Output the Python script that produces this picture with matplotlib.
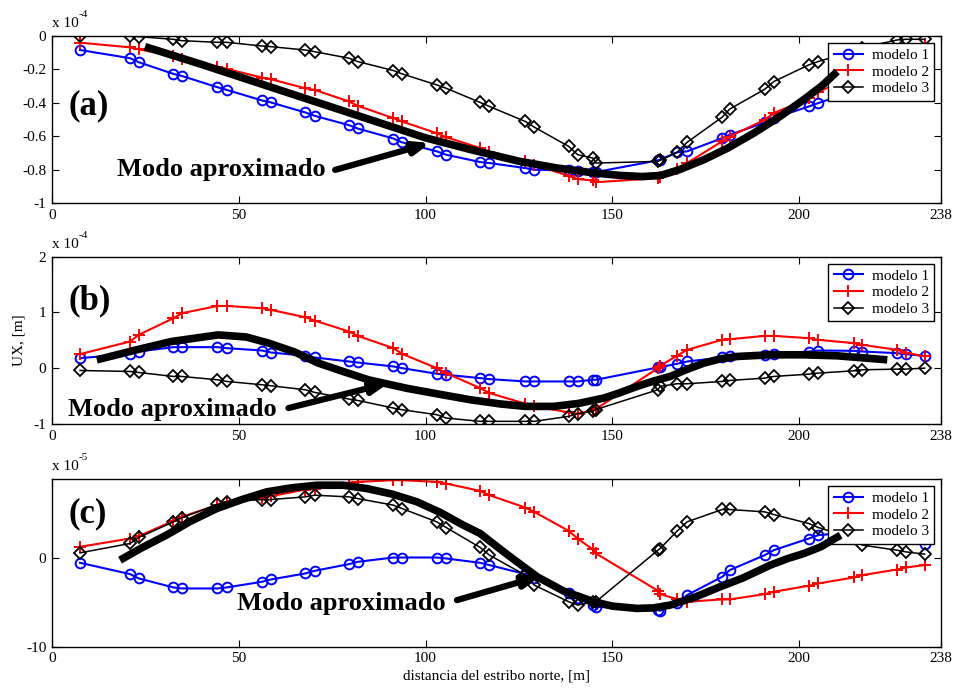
import matplotlib
matplotlib.use("Agg")
import matplotlib.pyplot as plt
import numpy as np

plt.rcParams['font.family'] = ['Liberation Serif', 'DejaVu Serif']
plt.rcParams['font.size'] = 10

# estaciones a lo largo del puente [m]
dist = [7.5, 20.9, 23.2, 32.5, 34.7, 44.3, 46.8, 56.2, 58.6, 67.8, 70.3, 79.5, 81.8,
        91.4, 93.7, 103.0, 105.5, 114.6, 117.1, 126.7, 129.1, 138.3, 140.7, 144.8, 145.6,
        162.2, 162.8, 167.3, 170.0, 179.4, 181.4, 190.8, 193.2, 202.6, 205.1, 214.7,
        216.9, 226.2, 228.5, 233.6]

# (a) modo 1, x 1e-4
a_m1 = [-0.084, -0.133, -0.157, -0.227, -0.239, -0.307, -0.323, -0.386, -0.398, -0.458,
        -0.478, -0.534, -0.554, -0.614, -0.637, -0.691, -0.711, -0.755, -0.761, -0.791,
        -0.801, -0.805, -0.811, -0.815, -0.815, -0.745, -0.74, -0.697, -0.691, -0.612,
        -0.592, -0.518, -0.492, -0.422, -0.402, -0.33, -0.3, -0.2, -0.17, -0.1]
a_m2 = [-0.04, -0.068, -0.08, -0.12, -0.14, -0.183, -0.197, -0.249, -0.259, -0.313,
        -0.323, -0.392, -0.418, -0.492, -0.512, -0.582, -0.606, -0.671, -0.697, -0.751,
        -0.771, -0.837, -0.857, -0.865, -0.876, -0.851, -0.845, -0.797, -0.761, -0.631,
        -0.602, -0.502, -0.462, -0.373, -0.333, -0.25, -0.22, -0.13, -0.1, -0.05]
a_m3 = [0.0, 0.0, -0.004, -0.02, -0.028, -0.038, -0.038, -0.06, -0.064, -0.084, -0.094,
        -0.133, -0.153, -0.207, -0.227, -0.293, -0.313, -0.398, -0.422, -0.512, -0.546,
        -0.661, -0.711, -0.731, -0.761, -0.751, -0.745, -0.697, -0.637, -0.486, -0.438,
        -0.319, -0.273, -0.173, -0.153, -0.09, -0.07, -0.024, -0.02, -0.02]
a_modo_x = [24.9, 40, 55, 70, 85, 100, 112, 125, 135, 145, 152, 158, 163, 168, 174.5,
            181, 188, 195, 201.3, 206, 210.2]
a_modo_y = [-0.064, -0.17, -0.28, -0.39, -0.5, -0.61, -0.68, -0.75, -0.79, -0.82, -0.835,
            -0.842, -0.835, -0.8, -0.741, -0.67, -0.58, -0.48, -0.38, -0.3, -0.213]

# (b) modo 2, x 1e-4
b_m1 = [0.181, 0.258, 0.3, 0.378, 0.378, 0.378, 0.36, 0.318, 0.282, 0.223, 0.193, 0.121,
        0.103, 0.032, 0.002, -0.099, -0.117, -0.177, -0.195, -0.237, -0.237, -0.237,
        -0.237, -0.207, -0.207, 0.014, 0.02, 0.08, 0.121, 0.193, 0.211, 0.241, 0.253, 0.3,
        0.318, 0.312, 0.3, 0.27, 0.253, 0.223]
b_m2 = [0.253, 0.479, 0.598, 0.897, 0.986, 1.117, 1.117, 1.076, 1.046, 0.915, 0.855,
        0.658, 0.581, 0.36, 0.258, 0.002, -0.087, -0.356, -0.445, -0.636, -0.684, -0.79,
        -0.815, -0.75, -0.73, 0.002, 0.044, 0.223, 0.33, 0.51, 0.52, 0.58, 0.58, 0.539,
        0.51, 0.45, 0.42, 0.33, 0.282, 0.211]
b_m3 = [-0.04, -0.058, -0.076, -0.147, -0.147, -0.207, -0.237, -0.296, -0.314, -0.386,
        -0.433, -0.553, -0.577, -0.714, -0.744, -0.833, -0.893, -0.952, -0.952, -0.952,
        -0.952, -0.863, -0.815, -0.77, -0.74, -0.386, -0.326, -0.278, -0.278, -0.237,
        -0.219, -0.177, -0.147, -0.106, -0.087, -0.046, -0.028, -0.016, -0.016, 0.002]
b_modo_x = [12, 22, 32, 44.5, 52, 58, 65, 71.3, 78, 84.7, 95, 104, 112, 120, 126.7,
            134.3, 141, 147.7, 152, 156.6, 161, 165.5, 170, 174.5, 179, 183.4, 192.3,
            201.3, 210.2, 223.6]
b_modo_y = [0.151, 0.32, 0.48, 0.598, 0.56, 0.45, 0.29, 0.092, -0.06, -0.207, -0.36,
            -0.47, -0.565, -0.64, -0.684, -0.684, -0.63, -0.535, -0.44, -0.326, -0.23,
            -0.147, -0.02, 0.092, 0.17, 0.211, 0.241, 0.241, 0.223, 0.151]

# (c) modo 3, x 1e-5
c_m1 = [-0.49, -1.77, -2.26, -3.28, -3.4, -3.4, -3.28, -2.64, -2.38, -1.7, -1.4, -0.64,
        -0.38, 0.11, 0.11, 0.11, 0.0, -0.49, -0.75, -1.77, -2.26, -3.96, -4.53, -5.28,
        -5.47, -5.85, -5.92, -5.09, -4.15, -2.08, -1.32, 0.38, 0.94, 2.26, 2.64, 3.0, 3.1,
        2.6, 2.2, 1.6]
c_m2 = [1.32, 2.26, 2.53, 4.26, 4.72, 6.04, 6.42, 6.9, 7.06, 7.81, 7.92, 8.6, 8.68, 8.87,
        8.87, 8.68, 8.49, 7.66, 7.17, 5.77, 5.28, 3.13, 2.26, 1.02, 0.57, -3.66, -4.04,
        -4.6, -4.9, -4.64, -4.64, -4.04, -3.77, -3.09, -2.83, -2.15, -1.89, -1.25, -1.02,
        -0.75]
c_m3 = [0.64, 1.7, 2.38, 4.15, 4.6, 6.15, 6.42, 6.68, 6.68, 6.98, 7.17, 6.98, 6.79, 6.04,
        5.66, 4.15, 3.51, 1.25, 0.38, -1.89, -3.02, -4.9, -5.28, -4.95, -4.9, 0.94, 1.13,
        3.09, 4.15, 5.55, 5.55, 5.28, 4.98, 3.96, 3.51, 2.3, 1.51, 0.94, 0.75, 0.49]
c_modo_x = [18.2, 24, 30.6, 37, 44.1, 51, 57.5, 64, 70.9, 78, 84.3, 91, 97.7, 104, 110,
            114.6, 122, 129.9, 137, 145, 150, 156.6, 161, 165.5, 172, 178.9, 185, 192.3,
            197, 201.3, 205.8, 211.1]
c_modo_y = [-0.19, 1.2, 2.64, 4.2, 5.66, 6.7, 7.55, 8.0, 8.3, 8.3, 7.92, 7.3, 6.42, 5.2,
            3.8, 2.83, 0.4, -2.08, -3.7, -4.9, -5.4, -5.66, -5.6, -5.28, -4.4, -3.2, -2.2,
            -0.75, 0.0, 0.57, 1.32, 2.64]

labels = ['modelo 1', 'modelo 2', 'modelo 3']
xticks = [0, 50, 100, 150, 200, 238]

paneles = [
    dict(m=(a_m1, a_m2, a_m3), mx=a_modo_x, my=a_modo_y, ylim=(-1, 0),
         yticks=[-1, -0.8, -0.6, -0.4, -0.2, 0], ytl=['-1', '-0.8', '-0.6', '-0.4', '-0.2', '0'],
         exp='-4', tag='(a)', tag_y=-0.42, txt=(17.4, -0.8), arr=((75.8, -0.802), (101.3, -0.641)),
         pos=[0.0544, 0.705, 0.9300, 0.2427]),
    dict(m=(b_m1, b_m2, b_m3), mx=b_modo_x, my=b_modo_y, ylim=(-1, 2),
         yticks=[-1, 0, 1, 2], ytl=['-1', '0', '1', '2'],
         exp='-4', tag='(b)', tag_y=1.2, txt=(4.3, -0.74), arr=((63.3, -0.714), (90.1, -0.266)),
         pos=[0.0544, 0.3837, 0.9300, 0.2432]),
    dict(m=(c_m1, c_m2, c_m3), mx=c_modo_x, my=c_modo_y, ylim=(-10, 9.0),
         yticks=[-10, 0], ytl=['-10', '0'],
         exp='-5', tag='(c)', tag_y=5.1, txt=(49.5, -5.1), arr=((108.4, -4.72), (130.7, -2.0)),
         pos=[0.0544, 0.0600, 0.9300, 0.2437]),
]

fig = plt.figure(figsize=(9.56, 6.88), dpi=100)

for p in paneles:
    ax = fig.add_axes(p['pos'])
    m1, m2, m3 = p['m']
    ax.plot(dist, m1, color='blue', marker='o', ms=7, mfc='none', mew=1.4, lw=1.5, label=labels[0])
    ax.plot(dist, m2, color='red', marker='+', ms=9, mew=1.4, lw=1.5, label=labels[1])
    ax.plot(dist, m3, color='black', marker='D', ms=6.5, mfc='none', mew=1.3, lw=1.1, label=labels[2])
    # modo aproximado (trazo grueso, por encima de la leyenda)
    ax.plot(p['mx'], p['my'], color='black', lw=5.5, solid_capstyle='butt', zorder=6)
    ax.annotate('', xy=p['arr'][1], xytext=p['arr'][0],
                arrowprops=dict(arrowstyle='-|>,head_length=0.9,head_width=0.35',
                                color='black', lw=4.5, shrinkA=0, shrinkB=0), zorder=6)
    ax.text(p['txt'][0], p['txt'][1], 'Modo aproximado', fontsize=19, fontweight='bold',
            ha='left', va='center', zorder=6)
    ax.text(4.3, p['tag_y'], p['tag'], fontsize=25, fontweight='bold', ha='left', va='center')

    ax.set_xlim(0, 238)
    ax.set_ylim(*p['ylim'])
    ax.set_xticks(xticks)
    ax.set_yticks(p['yticks'])
    ax.set_yticklabels(p['ytl'])
    ax.tick_params(direction='in', top=True, right=True, length=5, labelsize=11, pad=4)
    for s in ax.spines.values():
        s.set_linewidth(1.0)

    ax.text(0.0, 1.035, 'x 10', transform=ax.transAxes, fontsize=11, ha='left', va='bottom')
    ax.text(0.030, 1.10, p['exp'], transform=ax.transAxes, fontsize=8, ha='left', va='bottom')

    leg = ax.legend(loc='upper right', fontsize=11, fancybox=False, framealpha=1,
                    edgecolor='black', borderaxespad=0.45, handlelength=1.9,
                    handletextpad=0.6, borderpad=0.35, labelspacing=0.2)
    leg.get_frame().set_linewidth(1.0)

    if p['tag'] == '(b)':
        ax.set_ylabel('UX, [m]', fontsize=11, labelpad=6)
    if p['tag'] == '(c)':
        ax.set_xlabel('distancia del estribo norte, [m]', fontsize=11, labelpad=3)

fig.savefig('out.png', dpi=100)
